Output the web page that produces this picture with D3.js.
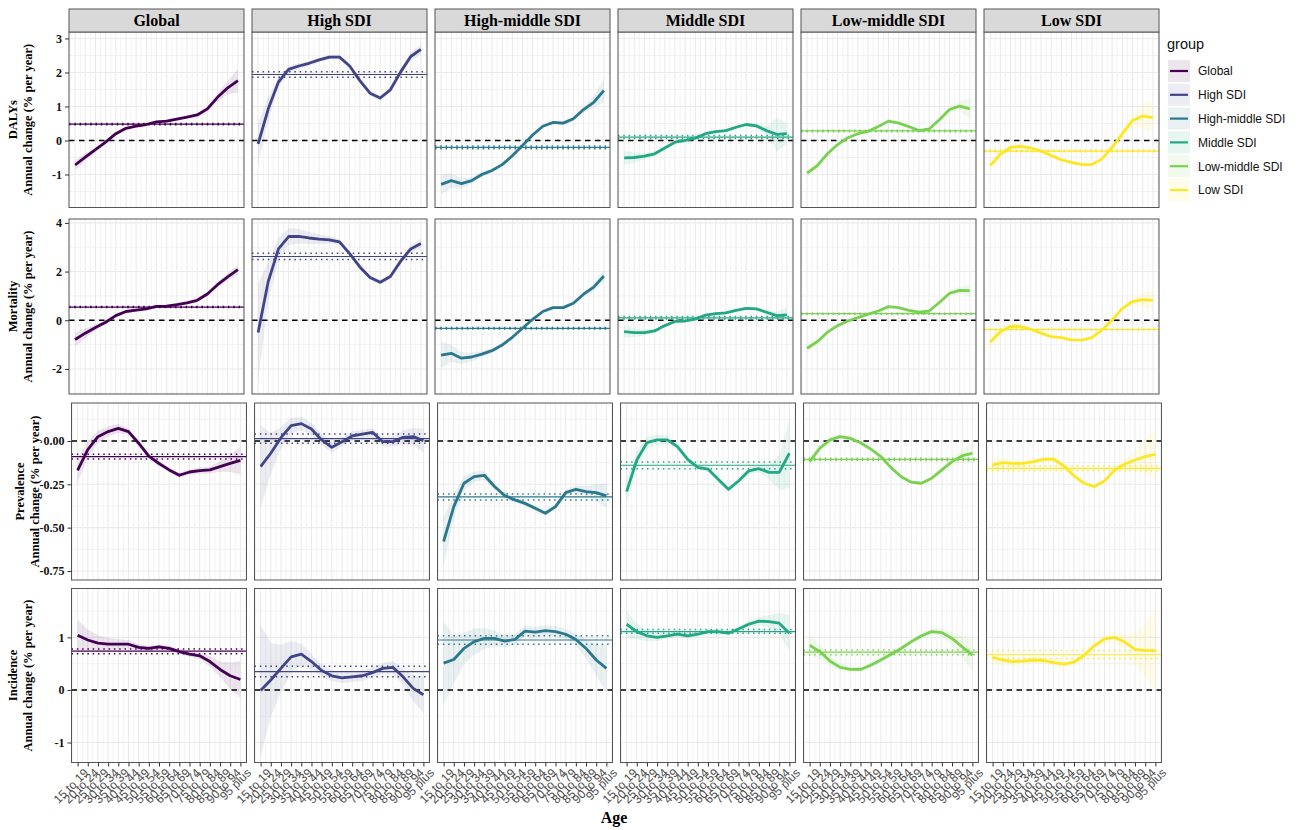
<!DOCTYPE html>
<html>
<head>
<meta charset="utf-8">
<script src="https://cdn.jsdelivr.net/npm/d3@7"></script>
<style>
  body { margin: 0; background: #fff; }
  svg { display: block; }
</style>
</head>
<body>
<div id="chart"></div>
<script>
// ---- data ----
var ages = ["15 to 19","20 to 24","25 to 29","30 to 34","35 to 39","40 to 44","45 to 49","50 to 54",
            "55 to 59","60 to 64","65 to 69","70 to 74","75 to 79","80 to 84","85 to 89","90 to 94","95 plus"];
var groups = ["Global","High SDI","High-middle SDI","Middle SDI","Low-middle SDI","Low SDI"];
var groupColors = ["#440154","#414487","#2A788E","#22A884","#7AD151","#FDE725"];
var measures = ["DALYs","Mortality","Prevalence","Incidence"];

// local drift per age group (% per year), one row per group
var dalysValues = [
  [-0.72,-0.49,-0.27,-0.05,0.2,0.36,0.42,0.47,0.55,0.57,0.63,0.69,0.75,0.93,1.27,1.55,1.76],
  [-0.1,0.93,1.72,2.09,2.19,2.27,2.37,2.45,2.45,2.19,1.76,1.39,1.25,1.49,2.01,2.47,2.68],
  [-1.29,-1.18,-1.27,-1.18,-1.0,-0.88,-0.71,-0.45,-0.15,0.16,0.42,0.53,0.51,0.64,0.91,1.12,1.47],
  [-0.51,-0.5,-0.46,-0.39,-0.22,-0.05,0.0,0.07,0.2,0.26,0.29,0.39,0.47,0.43,0.29,0.18,0.2],
  [-0.96,-0.74,-0.39,-0.12,0.08,0.2,0.27,0.41,0.57,0.51,0.41,0.29,0.34,0.61,0.91,1.01,0.93],
  [-0.74,-0.41,-0.2,-0.17,-0.22,-0.31,-0.44,-0.57,-0.64,-0.71,-0.71,-0.54,-0.2,0.2,0.59,0.72,0.67]
];
var dalysBand = [
  [0.15,0.1,0.07,0.05,0.04,0.04,0.04,0.03,0.03,0.03,0.04,0.04,0.05,0.08,0.12,0.2,0.35],
  [0.6,0.35,0.15,0.1,0.08,0.07,0.07,0.07,0.07,0.07,0.07,0.07,0.08,0.08,0.1,0.12,0.15],
  [0.3,0.22,0.15,0.1,0.08,0.06,0.05,0.05,0.05,0.05,0.05,0.05,0.06,0.07,0.1,0.15,0.35],
  [0.2,0.15,0.1,0.07,0.05,0.04,0.04,0.04,0.04,0.04,0.04,0.05,0.06,0.08,0.12,0.5,0.3],
  [0.12,0.08,0.05,0.04,0.03,0.03,0.03,0.03,0.03,0.03,0.03,0.03,0.04,0.05,0.08,0.15,0.3],
  [0.2,0.1,0.06,0.05,0.04,0.04,0.04,0.04,0.04,0.04,0.04,0.05,0.06,0.1,0.2,0.35,0.45]
];
// net drift [estimate, lower, upper]
var dalysDrift = [[0.48,0.46,0.5],[1.94,1.86,2.02],[-0.2,-0.24,-0.16],[0.1,0.06,0.15],[0.28,0.26,0.3],[-0.31,-0.33,-0.29]];

var mortalityValues = [
  [-0.79,-0.53,-0.3,-0.08,0.19,0.36,0.42,0.47,0.57,0.58,0.64,0.71,0.82,1.08,1.46,1.78,2.08],
  [-0.5,1.6,2.93,3.44,3.45,3.38,3.33,3.3,3.22,2.74,2.19,1.76,1.56,1.8,2.42,2.93,3.15],
  [-1.43,-1.36,-1.56,-1.51,-1.39,-1.25,-1.02,-0.7,-0.33,0.04,0.36,0.52,0.52,0.7,1.07,1.36,1.82],
  [-0.47,-0.51,-0.51,-0.44,-0.22,-0.05,-0.03,0.05,0.21,0.27,0.3,0.41,0.49,0.47,0.33,0.19,0.22],
  [-1.15,-0.88,-0.49,-0.22,-0.03,0.11,0.25,0.38,0.56,0.52,0.41,0.33,0.38,0.73,1.11,1.23,1.22],
  [-0.9,-0.47,-0.25,-0.26,-0.37,-0.53,-0.67,-0.71,-0.81,-0.82,-0.71,-0.4,0.01,0.49,0.77,0.85,0.82]
];
var mortalityBand = [
  [0.3,0.2,0.12,0.08,0.06,0.05,0.05,0.04,0.04,0.04,0.05,0.05,0.06,0.08,0.1,0.15,0.2],
  [2.0,0.8,0.45,0.35,0.3,0.25,0.2,0.15,0.12,0.1,0.1,0.1,0.1,0.1,0.12,0.15,0.2],
  [0.55,0.35,0.25,0.18,0.12,0.1,0.08,0.07,0.06,0.06,0.06,0.06,0.07,0.08,0.1,0.15,0.25],
  [0.25,0.18,0.12,0.08,0.06,0.05,0.05,0.05,0.05,0.05,0.05,0.05,0.06,0.07,0.1,0.18,0.3],
  [0.2,0.12,0.08,0.06,0.05,0.04,0.04,0.04,0.04,0.04,0.04,0.04,0.05,0.06,0.08,0.15,0.25],
  [0.3,0.2,0.12,0.08,0.06,0.05,0.05,0.05,0.05,0.05,0.05,0.05,0.06,0.1,0.15,0.3,0.4]
];
var mortalityDrift = [[0.54,0.52,0.56],[2.62,2.5,2.75],[-0.33,-0.36,-0.3],[0.1,0.05,0.15],[0.27,0.25,0.29],[-0.38,-0.4,-0.36]];

var prevalenceValues = [
  [-0.17,-0.05,0.025,0.054,0.073,0.054,-0.013,-0.087,-0.13,-0.167,-0.198,-0.179,-0.171,-0.167,-0.148,-0.129,-0.112],
  [-0.148,-0.071,0.019,0.088,0.1,0.069,0.006,-0.037,-0.004,0.029,0.04,0.05,-0.004,-0.004,0.021,0.025,0.002],
  [-0.58,-0.379,-0.244,-0.206,-0.198,-0.263,-0.315,-0.34,-0.36,-0.388,-0.417,-0.379,-0.298,-0.279,-0.292,-0.298,-0.317],
  [-0.292,-0.11,-0.01,0.006,0.006,-0.033,-0.106,-0.152,-0.162,-0.221,-0.279,-0.231,-0.173,-0.16,-0.181,-0.181,-0.071],
  [-0.119,-0.042,0.006,0.025,0.015,-0.01,-0.046,-0.09,-0.154,-0.206,-0.238,-0.244,-0.215,-0.167,-0.119,-0.085,-0.071],
  [-0.138,-0.125,-0.129,-0.129,-0.119,-0.106,-0.104,-0.144,-0.202,-0.244,-0.263,-0.231,-0.167,-0.133,-0.11,-0.09,-0.077]
];
var prevalenceBand = [
  [0.07,0.05,0.035,0.03,0.025,0.02,0.02,0.015,0.015,0.015,0.015,0.015,0.02,0.02,0.03,0.05,0.08],
  [0.24,0.12,0.06,0.045,0.04,0.035,0.03,0.03,0.025,0.025,0.025,0.025,0.025,0.03,0.04,0.05,0.07],
  [0.14,0.07,0.04,0.03,0.025,0.02,0.02,0.015,0.015,0.015,0.015,0.015,0.02,0.02,0.03,0.05,0.07],
  [0.07,0.05,0.035,0.03,0.025,0.02,0.02,0.015,0.015,0.015,0.015,0.015,0.02,0.02,0.04,0.1,0.2],
  [0.03,0.025,0.02,0.015,0.015,0.01,0.01,0.01,0.01,0.01,0.01,0.01,0.01,0.015,0.02,0.04,0.05],
  [0.05,0.03,0.025,0.02,0.015,0.015,0.015,0.015,0.015,0.015,0.015,0.015,0.02,0.03,0.05,0.1,0.15]
];
var prevalenceDrift = [[-0.09,-0.104,-0.077],[0.013,-0.013,0.04],[-0.323,-0.34,-0.306],[-0.14,-0.16,-0.121],[-0.106,-0.112,-0.1],[-0.158,-0.171,-0.144]];

var incidenceValues = [
  [1.04,0.95,0.89,0.87,0.87,0.87,0.81,0.79,0.82,0.79,0.73,0.68,0.65,0.54,0.39,0.27,0.2],
  [-0.01,0.19,0.41,0.63,0.68,0.54,0.37,0.27,0.23,0.25,0.27,0.33,0.41,0.43,0.25,0.03,-0.09],
  [0.51,0.58,0.79,0.92,0.98,0.98,0.93,0.96,1.12,1.1,1.13,1.11,1.06,0.96,0.79,0.57,0.41],
  [1.25,1.11,1.03,1.0,1.03,1.06,1.03,1.06,1.11,1.11,1.08,1.16,1.25,1.31,1.3,1.27,1.08],
  [0.85,0.73,0.55,0.43,0.39,0.39,0.47,0.57,0.68,0.79,0.92,1.03,1.11,1.09,0.98,0.82,0.66],
  [0.62,0.57,0.54,0.55,0.57,0.56,0.52,0.49,0.53,0.66,0.84,0.97,1.0,0.91,0.77,0.75,0.75]
];
var incidenceBand = [
  [0.3,0.2,0.15,0.12,0.1,0.08,0.06,0.05,0.05,0.05,0.05,0.05,0.06,0.1,0.15,0.25,0.35],
  [1.25,0.7,0.45,0.3,0.2,0.15,0.12,0.1,0.1,0.1,0.1,0.1,0.1,0.12,0.15,0.25,0.35],
  [0.8,0.45,0.3,0.25,0.2,0.15,0.12,0.1,0.1,0.1,0.1,0.1,0.1,0.12,0.18,0.3,0.45],
  [0.25,0.15,0.1,0.07,0.05,0.05,0.05,0.05,0.05,0.05,0.05,0.05,0.06,0.08,0.12,0.2,0.35],
  [0.2,0.15,0.1,0.08,0.06,0.05,0.05,0.05,0.05,0.05,0.05,0.05,0.06,0.08,0.12,0.2,0.3],
  [0.12,0.1,0.08,0.07,0.06,0.06,0.06,0.06,0.06,0.06,0.07,0.08,0.1,0.15,0.3,0.5,0.8]
];
var incidenceDrift = [[0.74,0.69,0.78],[0.35,0.25,0.45],[0.95,0.87,1.03],[1.11,1.08,1.15],[0.72,0.67,0.76],[0.67,0.6,0.75]];

var yTicks = [[-1,0,1,2,3],[-2,0,2,4],[-0.75,-0.5,-0.25,0],[-1,0,1]];
var yTickLabels = [["-1","0","1","2","3"],["-2","0","2","4"],["-0.75","-0.50","-0.25","0.00"],["-1","0","1"]];

var allValues = [dalysValues, mortalityValues, prevalenceValues, incidenceValues];
var allBands = [dalysBand, mortalityBand, prevalenceBand, incidenceBand];
var allDrifts = [dalysDrift, mortalityDrift, prevalenceDrift, incidenceDrift];

// ---- layout ----
var width = 1299, height = 830;
var panelW = 175, colStep = 183, colLeft0 = 69;
var rows = [
  {top: 32,  bottom: 207.5, domain: [-1.97, 3.19], minor: [-1.5,-0.5,0.5,1.5,2.5], shift: 0,   titleX: 13},
  {top: 219, bottom: 394,   domain: [-3.03, 4.16], minor: [-3,-1,1,3],             shift: 0,   titleX: 13},
  {top: 403, bottom: 580,   domain: [-0.802, 0.219], minor: [-0.625,-0.375,-0.125,0.125], shift: 2.5, titleX: 20},
  {top: 588.5, bottom: 762.5, domain: [-1.38, 1.93], minor: [-0.5,0.5,1.5],        shift: 2.5, titleX: 13}
];

var svg = d3.select("#chart").append("svg")
  .attr("width", width).attr("height", height);

var serif = "'Liberation Serif','Times New Roman',serif";
var sans = "'Liberation Sans',Arial,sans-serif";

var x = d3.scalePoint().domain(ages).range([0, panelW]).padding(0.6);
var minorX = [];
for (var k = 0; k <= ages.length; k++) minorX.push(x(ages[0]) + (k - 0.5) * x.step());

var defs = svg.append("defs");

rows.forEach(function(row, r) {
  var y = d3.scaleLinear().domain(row.domain).range([row.bottom, row.top]);
  var vals = allValues[r], bands = allBands[r], drifts = allDrifts[r];

  groups.forEach(function(gname, c) {
    var left = colLeft0 + c * colStep + row.shift;
    var color = groupColors[c];
    var g = svg.append("g").attr("transform", "translate(" + left + ",0)");
    var clipId = "clip-" + r + "-" + c;
    defs.append("clipPath").attr("id", clipId)
      .append("rect").attr("x", 0).attr("y", row.top).attr("width", panelW).attr("height", row.bottom - row.top);

    // grid
    var grid = g.append("g").attr("clip-path", "url(#" + clipId + ")");
    grid.selectAll(".vminor").data(minorX).enter().append("line")
      .attr("x1", d => d).attr("x2", d => d).attr("y1", row.top).attr("y2", row.bottom)
      .attr("stroke", "#EBEBEB").attr("stroke-width", 0.6);
    grid.selectAll(".vmajor").data(ages).enter().append("line")
      .attr("x1", d => x(d)).attr("x2", d => x(d)).attr("y1", row.top).attr("y2", row.bottom)
      .attr("stroke", "#EBEBEB").attr("stroke-width", 1.1);
    grid.selectAll(".hminor").data(row.minor).enter().append("line")
      .attr("x1", 0).attr("x2", panelW).attr("y1", d => y(d)).attr("y2", d => y(d))
      .attr("stroke", "#EBEBEB").attr("stroke-width", 0.6);
    grid.selectAll(".hmajor").data(yTicks[r]).enter().append("line")
      .attr("x1", 0).attr("x2", panelW).attr("y1", d => y(d)).attr("y2", d => y(d))
      .attr("stroke", "#EBEBEB").attr("stroke-width", 1.1);

    var plot = g.append("g").attr("clip-path", "url(#" + clipId + ")");
    var series = ages.map(function(a, i) {
      return {age: a, v: vals[c][i], lo: vals[c][i] - bands[c][i], hi: vals[c][i] + bands[c][i]};
    });

    // confidence band
    plot.append("path")
      .datum(series)
      .attr("fill", color).attr("fill-opacity", 0.1)
      .attr("d", d3.area().x(d => x(d.age)).y0(d => y(d.lo)).y1(d => y(d.hi)));

    // zero line
    plot.append("line")
      .attr("x1", 0).attr("x2", panelW).attr("y1", y(0)).attr("y2", y(0))
      .attr("stroke", "#000").attr("stroke-width", 1.4).attr("stroke-dasharray", "5.5,4.5");

    // net drift and its CI
    var drift = drifts[c];
    plot.append("line")
      .attr("x1", 0).attr("x2", panelW).attr("y1", y(drift[0])).attr("y2", y(drift[0]))
      .attr("stroke", color).attr("stroke-width", 1.2);
    [drift[1], drift[2]].forEach(function(dv) {
      plot.append("line")
        .attr("x1", 0).attr("x2", panelW).attr("y1", y(dv)).attr("y2", y(dv))
        .attr("stroke", color).attr("stroke-width", 1.5).attr("stroke-dasharray", "1.5,3.8");
    });

    // local drift line
    plot.append("path")
      .datum(series)
      .attr("fill", "none").attr("stroke", color).attr("stroke-width", 2.8)
      .attr("stroke-linejoin", "round")
      .attr("d", d3.line().x(d => x(d.age)).y(d => y(d.v)));

    // border
    g.append("rect")
      .attr("x", 0).attr("y", row.top).attr("width", panelW).attr("height", row.bottom - row.top)
      .attr("fill", "none").attr("stroke", "#555").attr("stroke-width", 1);

    // strip on top row
    if (r === 0) {
      g.append("rect")
        .attr("x", 0).attr("y", 9).attr("width", panelW).attr("height", row.top - 9)
        .attr("fill", "#D9D9D9").attr("stroke", "#555").attr("stroke-width", 1);
      g.append("text")
        .attr("x", panelW / 2).attr("y", 26)
        .attr("text-anchor", "middle")
        .style("font-family", serif).style("font-weight", "bold").style("font-size", "16px")
        .text(gname);
    }

    // y axis on first column
    if (c === 0) {
      var yAxis = d3.axisLeft(y).tickValues(yTicks[r]).tickSize(4).tickPadding(3)
        .tickFormat((d, i) => yTickLabels[r][i]);
      var ag = g.append("g").call(yAxis);
      ag.select(".domain").remove();
      ag.selectAll(".tick line").attr("stroke", "#333");
      ag.selectAll(".tick text")
        .style("font-family", serif).style("font-weight", "bold").style("font-size", "12px")
        .attr("fill", "#111");
    }

    // x axis on bottom row
    if (r === rows.length - 1) {
      var xAxis = d3.axisBottom(x).tickSize(4).tickPadding(2);
      var xg = g.append("g").attr("transform", "translate(0," + row.bottom + ")").call(xAxis);
      xg.select(".domain").remove();
      xg.selectAll(".tick line").attr("stroke", "#333");
      xg.selectAll(".tick text")
        .attr("text-anchor", "end")
        .attr("transform", "translate(5,5) rotate(-45)")
        .attr("dy", "0.72em")
        .attr("y", 0).attr("x", 0)
        .style("font-family", sans).style("font-size", "12px")
        .attr("fill", "#4D4D4D");
    }
  });

  // row title (two lines)
  var cy = (row.top + row.bottom) / 2;
  var t = svg.append("text")
    .attr("transform", "translate(" + row.titleX + "," + cy + ") rotate(-90)")
    .attr("text-anchor", "middle")
    .style("font-family", serif).style("font-weight", "bold").style("font-size", "12.5px");
  t.append("tspan").attr("x", 0).attr("dy", "0.35em").text(measures[r]);
  t.append("tspan").attr("x", 0).attr("dy", "1.2em").text("Annual change (% per year)");
});

// x title
svg.append("text")
  .attr("x", (colLeft0 + colLeft0 + 5 * colStep + panelW) / 2).attr("y", 823)
  .attr("text-anchor", "middle")
  .style("font-family", serif).style("font-weight", "bold").style("font-size", "16px")
  .text("Age");

// legend
var legend = svg.append("g").attr("transform", "translate(1167,0)");
legend.append("text").attr("x", 0).attr("y", 49)
  .style("font-family", sans).style("font-size", "14.5px").attr("fill", "#111")
  .text("group");
groups.forEach(function(gname, i) {
  var cy = 71 + i * 23.8;
  legend.append("rect").attr("x", 1).attr("y", cy - 11).attr("width", 22).attr("height", 22)
    .attr("fill", groupColors[i]).attr("fill-opacity", 0.1);
  legend.append("line").attr("x1", 3).attr("x2", 21).attr("y1", cy).attr("y2", cy)
    .attr("stroke", groupColors[i]).attr("stroke-width", 2.2);
  legend.append("text").attr("x", 31).attr("y", cy + 4.3)
    .style("font-family", sans).style("font-size", "12px").attr("fill", "#111")
    .text(gname);
});
</script>
</body>
</html>
